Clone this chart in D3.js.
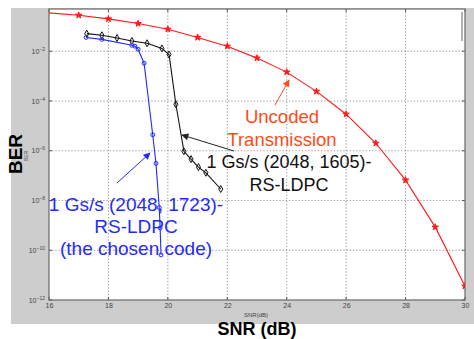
<!DOCTYPE html>
<html>
<head>
<meta charset="utf-8">
<script src="https://cdn.jsdelivr.net/npm/d3@7"></script>
<style>
  html, body { margin: 0; padding: 0; background: #fff; }
  svg { display: block; font-family: "Liberation Sans", Arial, sans-serif; }
</style>
</head>
<body>
<svg id="chart" width="474" height="339"></svg>
<script>
// uncoded transmission (red stars)
const uncodedSnr = [16, 17, 18, 19, 20, 21, 22, 23, 24, 25, 26, 27, 28, 29, 30];
const uncodedBer = [3.5e-1, 2.8e-1, 2.0e-1, 1.3e-1, 7.7e-2, 3.6e-2, 1.6e-2, 5.3e-3, 1.45e-3, 2.45e-4, 2.95e-5, 2.0e-6, 6.6e-8, 8.5e-10, 3.6e-12];

// 1 Gs/s (2048, 1605) RS-LDPC (black diamonds)
const ldpc1605Snr = [17.27, 17.78, 18.29, 18.79, 19.3, 19.8, 20.04, 20.27, 20.54, 20.78, 21.03, 21.28, 21.78];
const ldpc1605Ber = [5.1e-2, 4.4e-2, 3.4e-2, 2.6e-2, 2.1e-2, 1.3e-2, 7.4e-3, 7.4e-5, 9.5e-7, 4.6e-7, 2.2e-7, 1.3e-7, 2.9e-8];

// 1 Gs/s (2048, 1723) RS-LDPC (blue circles)
const ldpc1723Snr = [17.25, 17.78, 18.79, 18.89, 19.0, 19.2, 19.49, 19.6, 19.71, 19.74, 19.77];
const ldpc1723Ber = [3.6e-2, 3.0e-2, 1.74e-2, 1.6e-2, 1.2e-2, 3.3e-3, 4.4e-6, 3.1e-7, 5.2e-9, 7.9e-10, 6.5e-11];

const xTicks = [16, 18, 20, 22, 24, 26, 28, 30];
const yTickExps = [-2, -4, -6, -8, -10, -12];

const svg = d3.select('#chart');
const plotLeft = 49, plotRight = 465, plotTop = 9, plotBottom = 300;

const x = d3.scaleLinear().domain([16, 30]).range([plotLeft, plotRight]);
const y = d3.scaleLog().domain([1e-12, 0.5]).range([plotBottom, plotTop]);

// figure background
svg.append('rect').attr('x', 11).attr('y', 8).attr('width', 463).attr('height', 316).attr('fill', '#cdcdcd');
svg.append('rect').attr('x', plotLeft).attr('y', plotTop).attr('width', plotRight - plotLeft).attr('height', plotBottom - plotTop).attr('fill', '#fff');

// grid
svg.append('g')
  .selectAll('line')
  .data(xTicks.slice(1, -1))
  .enter()
  .append('line')
  .attr('x1', d => x(d)).attr('x2', d => x(d))
  .attr('y1', plotTop).attr('y2', plotBottom)
  .attr('stroke', '#777').attr('stroke-width', 0.8).attr('stroke-dasharray', '1.2,2');

svg.append('g')
  .selectAll('line')
  .data(yTickExps.slice(0, -1))
  .enter()
  .append('line')
  .attr('x1', plotLeft).attr('x2', plotRight)
  .attr('y1', d => y(Math.pow(10, d))).attr('y2', d => y(Math.pow(10, d)))
  .attr('stroke', '#777').attr('stroke-width', 0.8).attr('stroke-dasharray', '1.2,2');

// axes
const xAxis = d3.axisBottom(x).tickValues(xTicks).tickSize(0).tickPadding(3);
const gx = svg.append('g').attr('transform', `translate(0,${plotBottom})`).call(xAxis);
gx.select('.domain').remove();
gx.selectAll('text').style('font-size', '7px').attr('fill', '#444');

const gy = svg.append('g');
const yLabels = gy.selectAll('text')
  .data(yTickExps)
  .enter()
  .append('text')
  .attr('x', plotLeft - 4)
  .attr('y', d => y(Math.pow(10, d)) + 2.5)
  .attr('text-anchor', 'end')
  .attr('fill', '#444')
  .style('font-size', '7px');
yLabels.append('tspan').text('10');
yLabels.append('tspan').attr('dy', -3).style('font-size', '5px').text(d => '\u2212' + (-d));

// inner tick marks on all four sides
const tickLen = 3;
const ticks = svg.append('g').attr('stroke', '#555').attr('stroke-width', 1);
xTicks.forEach(t => {
  ticks.append('line').attr('x1', x(t)).attr('x2', x(t)).attr('y1', plotBottom).attr('y2', plotBottom - tickLen);
  ticks.append('line').attr('x1', x(t)).attr('x2', x(t)).attr('y1', plotTop).attr('y2', plotTop + tickLen);
});
yTickExps.forEach(e => {
  const yy = y(Math.pow(10, e));
  ticks.append('line').attr('x1', plotLeft).attr('x2', plotLeft + tickLen).attr('y1', yy).attr('y2', yy);
  ticks.append('line').attr('x1', plotRight).attr('x2', plotRight - tickLen).attr('y1', yy).attr('y2', yy);
});

svg.append('rect')
  .attr('x', plotLeft).attr('y', plotTop).attr('width', plotRight - plotLeft).attr('height', plotBottom - plotTop)
  .attr('fill', 'none').attr('stroke', '#6a6a6a').attr('stroke-width', 1.2);
svg.append('line').attr('x1', 462).attr('x2', 462).attr('y1', 12).attr('y2', 41)
  .attr('stroke', '#666').attr('stroke-width', 1);

// series
const line = d3.line().x(d => x(d[0])).y(d => y(d[1]));
const defs = svg.append('defs');
defs.append('clipPath').attr('id', 'plotClip')
  .append('rect').attr('x', plotLeft).attr('y', plotTop).attr('width', plotRight - plotLeft).attr('height', plotBottom - plotTop);
const plot = svg.append('g').attr('clip-path', 'url(#plotClip)');

const series = [
  { snr: uncodedSnr, ber: uncodedBer, color: '#ff1a1a', symbol: d3.symbolStar, size: 13, fill: true },
  { snr: ldpc1605Snr, ber: ldpc1605Ber, color: '#111', symbol: d3.symbolDiamond, size: 14, fill: false },
  { snr: ldpc1723Snr, ber: ldpc1723Ber, color: '#1f2bff', symbol: d3.symbolCircle, size: 12, fill: false }
];

series.forEach(s => {
  const pts = s.snr.map((v, i) => [v, s.ber[i]]);
  plot.append('path')
    .datum(pts)
    .attr('d', line)
    .attr('fill', 'none')
    .attr('stroke', s.color)
    .attr('stroke-width', 1.1);
  plot.selectAll(null)
    .data(pts.filter(d => d[0] > 16))
    .enter()
    .append('path')
    .attr('d', d3.symbol().type(s.symbol).size(s.size))
    .attr('transform', d => `translate(${x(d[0])},${y(d[1])})`)
    .attr('fill', s.fill ? s.color : 'none')
    .attr('stroke', s.color)
    .attr('stroke-width', 1);
});

// annotations
function arrowHead(id, color) {
  defs.append('marker').attr('id', id)
    .attr('viewBox', '0 0 10 10').attr('refX', 9).attr('refY', 5)
    .attr('markerWidth', 9).attr('markerHeight', 7).attr('orient', 'auto')
    .attr('markerUnits', 'userSpaceOnUse')
    .append('path').attr('d', 'M0,0L10,5L0,10Z').attr('fill', color);
}
arrowHead('arrOrange', '#ff4a1a');
arrowHead('arrBlack', '#222');
arrowHead('arrBlue', '#1f2bff');

svg.append('line').attr('x1', 275).attr('y1', 105).attr('x2', 289).attr('y2', 80)
  .attr('stroke', '#ff4a1a').attr('stroke-width', 1).attr('marker-end', 'url(#arrOrange)');
svg.append('line').attr('x1', 234).attr('y1', 151).attr('x2', 182).attr('y2', 135)
  .attr('stroke', '#222').attr('stroke-width', 1).attr('marker-end', 'url(#arrBlack)');
svg.append('line').attr('x1', 117).attr('y1', 183).attr('x2', 150).attr('y2', 153)
  .attr('stroke', '#1f2bff').attr('stroke-width', 1).attr('marker-end', 'url(#arrBlue)');

function label(lines, cx, y0, dy, size, color) {
  const t = svg.append('text').attr('text-anchor', 'middle').attr('fill', color).style('font-size', size + 'px');
  lines.forEach((s, i) => t.append('tspan').attr('x', cx).attr('y', y0 + i * dy).text(s));
}
label(['Uncoded', 'Transmission'], 282, 123, 23, 18.5, '#ff4a1a');
label(['1 Gs/s (2048, 1605)-', 'RS-LDPC'], 289, 168, 23, 18, '#111');
label(['1 Gs/s (2048, 1723)-', 'RS-LDPC', '(the chosen code)'], 136, 211, 22, 19, '#1f2bff');

// axis titles
svg.append('text').attr('transform', 'translate(22,154) rotate(-90)')
  .attr('text-anchor', 'middle').style('font-size', '19px').style('font-weight', 'bold').text('BER');
svg.append('text').attr('transform', 'translate(28,156) rotate(-90)')
  .attr('text-anchor', 'middle').style('font-size', '5px').attr('fill', '#444').text('BER');
svg.append('text').attr('x', 256).attr('y', 317)
  .attr('text-anchor', 'middle').style('font-size', '6px').attr('fill', '#444').text('SNR(dB)');
svg.append('text').attr('x', 257).attr('y', 335)
  .attr('text-anchor', 'middle').style('font-size', '18px').style('font-weight', 'bold').text('SNR (dB)');
</script>
</body>
</html>
